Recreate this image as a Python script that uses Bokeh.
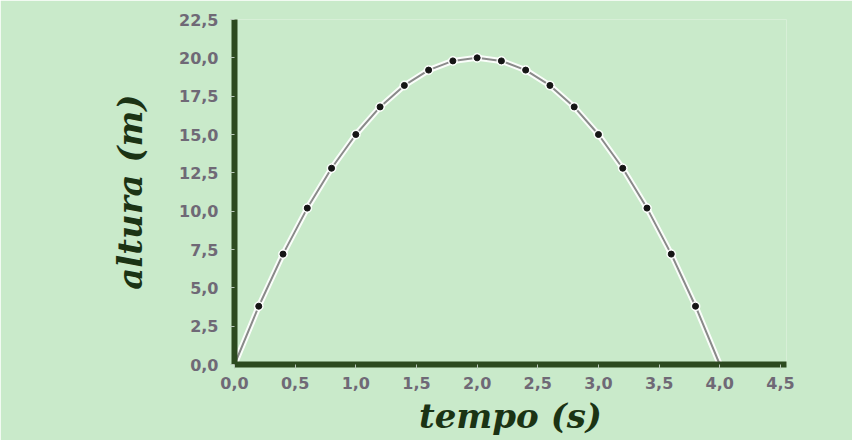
from bokeh.plotting import figure
from bokeh.models import FixedTicker, CustomJSTickFormatter, ColumnDataSource
from bokeh.embed import file_html
from bokeh.resources import INLINE

# Data
tempo_pts = [0.2, 0.4, 0.6, 0.8, 1.0, 1.2, 1.4, 1.6, 1.8, 2.0,
             2.2, 2.4, 2.6, 2.8, 3.0, 3.2, 3.4, 3.6, 3.8]
altura_pts = [3.8, 7.2, 10.2, 12.8, 15.0, 16.8, 18.2, 19.2, 19.8, 20.0,
              19.8, 19.2, 18.2, 16.8, 15.0, 12.8, 10.2, 7.2, 3.8]
tempo_curve = [0.0] + tempo_pts + [4.0]
altura_curve = [0.0] + altura_pts + [0.0]
x_ticks = [0.0, 0.5, 1.0, 1.5, 2.0, 2.5, 3.0, 3.5, 4.0, 4.5]
y_ticks = [0.0, 2.5, 5.0, 7.5, 10.0, 12.5, 15.0, 17.5, 20.0, 22.5]

BG = "#c9eaca"
AXIS = "#2c4a1f"
TICKLBL = "#6f6976"

p = figure(width=852, height=440, x_range=(0, 4.55), y_range=(0, 22.5),
           output_backend="svg", toolbar_location=None,
           min_border_left=234, min_border_right=66,
           min_border_top=19, min_border_bottom=76)
p.background_fill_color = BG
p.border_fill_color = BG
p.outline_line_color = None
p.grid.visible = False

fmt = CustomJSTickFormatter(code="return tick.toFixed(1).replace('.', ',');")

for ax, ticks in ((p.xaxis[0], x_ticks), (p.yaxis[0], y_ticks)):
    ax.ticker = FixedTicker(ticks=ticks)
    ax.formatter = fmt
    ax.minor_tick_line_color = None
    ax.axis_line_color = AXIS
    ax.axis_line_width = 6
    ax.major_tick_line_color = "#b8c8b8"
    ax.major_tick_in = 0
    ax.major_tick_out = 4
    ax.major_label_text_font = "DejaVu Sans"
    ax.major_label_text_font_style = "bold"
    ax.major_label_text_font_size = "16px"
    ax.major_label_text_color = TICKLBL
    ax.axis_label_text_font = "DejaVu Serif"
    ax.axis_label_text_font_style = "bold italic"
    ax.axis_label_text_font_size = "34px"
    ax.axis_label_text_color = "#1b3314"

p.xaxis.axis_label = "tempo (s)"
p.yaxis.axis_label = "altura (m)"
p.xaxis.major_label_standoff = 8
p.yaxis.major_label_standoff = 12
p.xaxis.axis_label_standoff = 4
p.yaxis.axis_label_standoff = 26

curve = ColumnDataSource(dict(t=tempo_curve, h=altura_curve))
pts = ColumnDataSource(dict(t=tempo_pts, h=altura_pts))
p.line("t", "h", source=curve, line_color="white", line_width=6, line_alpha=0.9)
p.line("t", "h", source=curve, line_color="#8a8a8a", line_width=2)
p.scatter("t", "h", source=pts, size=9, color="white", alpha=0.8)
p.scatter("t", "h", source=pts, size=6, color="#151515")

open("out.html", "w").write(file_html(p, INLINE))
